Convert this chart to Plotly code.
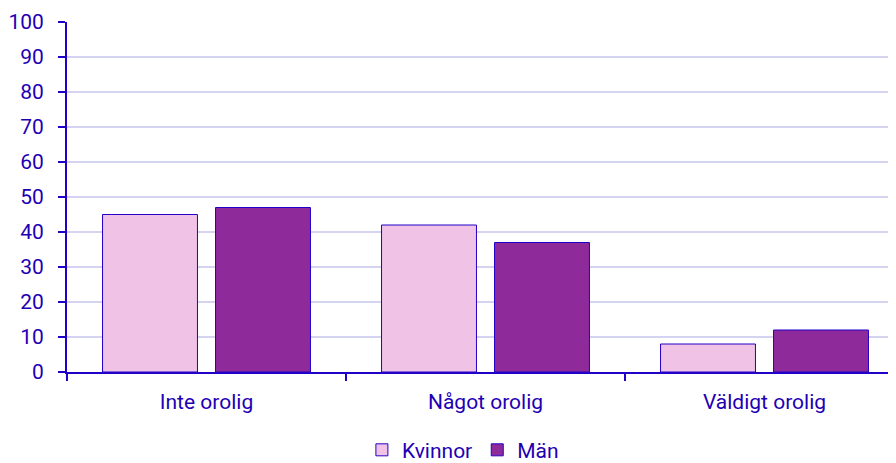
import plotly.graph_objects as go

categories = ["Inte orolig", "Något orolig", "Väldigt orolig"]
kvinnor = [45, 42, 8]
man = [47, 37, 12]
series_names = ["Kvinnor", "Män"]

blue = "#2200C8"
text_blue = "#1E00B4"

fig = go.Figure()
fig.add_trace(go.Bar(x=categories, y=kvinnor, name=series_names[0],
                     marker=dict(color="#F0C3E6", line=dict(color=blue, width=1))))
fig.add_trace(go.Bar(x=categories, y=man, name=series_names[1],
                     marker=dict(color="#8F2A9B", line=dict(color=blue, width=1))))

fig.update_layout(
    width=896, height=463,
    margin=dict(l=59, r=0, t=14, b=99),
    plot_bgcolor="white", paper_bgcolor="white",
    font=dict(family="Roboto", size=21, color=text_blue),
    barmode="group", bargap=0.19, bargroupgap=0.16,
    showlegend=True,
    legend=dict(orientation="h", x=0.473, xanchor="center",
                yref="container", y=0.045, yanchor="middle",
                font=dict(size=21, color=text_blue), traceorder="normal",
                itemwidth=30, entrywidth=0),
    xaxis=dict(showline=True, linecolor=blue, linewidth=2, ticks="outside",
               tickson="boundaries", ticklen=7, tickcolor=blue, tickwidth=2,
               ticklabelstandoff=10,
               showgrid=False, automargin=False, tickfont=dict(size=21, color=text_blue)),
    yaxis=dict(range=[0, 100], dtick=10, showline=True, linecolor=blue, linewidth=2,
               ticks="outside", ticklen=7, tickcolor=blue, tickwidth=2,
               ticklabelstandoff=10,
               gridcolor="#D4D4F0", gridwidth=2, zeroline=False, automargin=False,
               tickfont=dict(size=21, color=text_blue)),
)

fig.write_html("out.html")
